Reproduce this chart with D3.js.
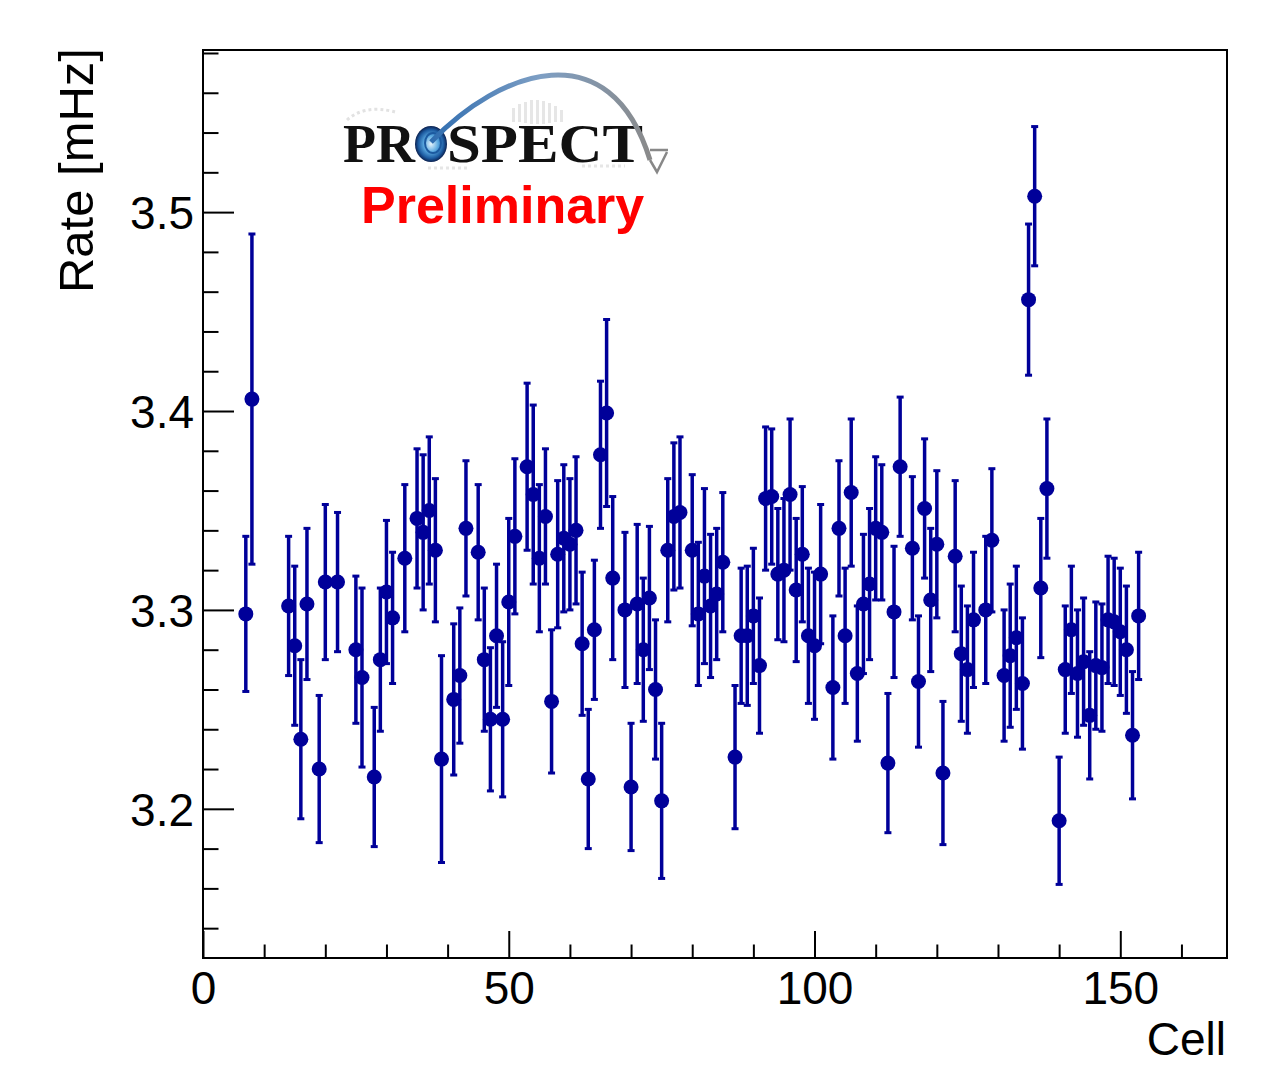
<!DOCTYPE html>
<html>
<head>
<meta charset="utf-8">
<script src="https://cdn.jsdelivr.net/npm/d3@7"></script>
<style>
  body { margin: 0; background: #fff; }
  svg { display: block; }
  text { font-family: "Liberation Sans", Arial, Helvetica, sans-serif; }
</style>
</head>
<body>
<svg id="chart" width="1272" height="1066"></svg>
<script>
// cell number of each filled channel
const cells = [7, 8, 14, 15, 16, 17, 19, 20, 22, 25, 26, 28, 29, 30, 31, 33,
  35, 36, 37, 38, 39, 41, 42, 43, 45, 46, 47, 48, 49, 50, 51,
  53, 54, 55, 56, 57, 58, 59, 60, 61, 62, 63, 64, 65, 66, 67,
  69, 70, 71, 72, 73, 74, 75, 76, 77, 78, 80, 81, 82, 83, 84, 85,
  87, 88, 89, 90, 91, 92, 93, 94, 95, 96, 97, 98, 99, 100, 101,
  103, 104, 105, 106, 107, 108, 109, 110, 111, 112, 113, 114,
  116, 117, 118, 119, 120, 121, 123, 124, 125, 126, 128, 129,
  131, 132, 133, 134, 135, 136, 137, 138,
  140, 141, 142, 143, 144, 145, 146, 147, 148, 149, 150, 151, 152, 153];

// rate [mHz]
const rates = [3.298, 3.406, 3.302, 3.282, 3.235, 3.303, 3.220, 3.314, 3.314, 3.280, 3.266, 3.216, 3.275, 3.309, 3.296, 3.326,
  3.346, 3.339, 3.350, 3.330, 3.225, 3.255, 3.267, 3.341, 3.329, 3.275, 3.245, 3.287, 3.245, 3.304, 3.337,
  3.372, 3.358, 3.326, 3.347, 3.254, 3.328, 3.336, 3.333, 3.340, 3.283, 3.215, 3.290, 3.378, 3.399, 3.316,
  3.300, 3.211, 3.303, 3.280, 3.306, 3.260, 3.204, 3.330, 3.347, 3.349, 3.330, 3.298, 3.317, 3.302, 3.308, 3.324,
  3.226, 3.287, 3.287, 3.297, 3.272, 3.356, 3.357, 3.318, 3.320, 3.358, 3.310, 3.328, 3.287, 3.282, 3.318,
  3.261, 3.341, 3.287, 3.359, 3.268, 3.303, 3.313, 3.341, 3.339, 3.223, 3.299, 3.372,
  3.331, 3.264, 3.351, 3.305, 3.333, 3.218, 3.327, 3.278, 3.270, 3.295, 3.300, 3.335,
  3.267, 3.277, 3.286, 3.263, 3.456, 3.508, 3.311, 3.361,
  3.194, 3.270, 3.290, 3.268, 3.274, 3.247, 3.272, 3.271, 3.295, 3.294, 3.289, 3.280, 3.237, 3.297];

// symmetric errors
const errors = [0.039, 0.083, 0.035, 0.040, 0.040, 0.038, 0.037, 0.039, 0.035, 0.037, 0.045, 0.035, 0.036, 0.036, 0.033, 0.037,
  0.035, 0.039, 0.037, 0.036, 0.052, 0.038, 0.034, 0.034, 0.034, 0.036, 0.036, 0.036, 0.039, 0.042, 0.039,
  0.042, 0.045, 0.037, 0.034, 0.036, 0.037, 0.037, 0.033, 0.037, 0.036, 0.035, 0.035, 0.037, 0.047, 0.041,
  0.039, 0.032, 0.040, 0.036, 0.036, 0.035, 0.039, 0.036, 0.037, 0.038, 0.038, 0.036, 0.044, 0.036, 0.033, 0.035,
  0.036, 0.034, 0.035, 0.034, 0.034, 0.036, 0.034, 0.033, 0.036, 0.038, 0.036, 0.034, 0.034, 0.037, 0.035,
  0.036, 0.034, 0.034, 0.037, 0.034, 0.035, 0.038, 0.036, 0.034, 0.035, 0.033, 0.035,
  0.036, 0.033, 0.035, 0.036, 0.037, 0.036, 0.038, 0.034, 0.032, 0.034, 0.037, 0.036,
  0.033, 0.036, 0.036, 0.033, 0.038, 0.035, 0.035, 0.035,
  0.032, 0.032, 0.032, 0.032, 0.032, 0.032, 0.032, 0.032, 0.032, 0.032, 0.032, 0.032, 0.032, 0.032];

const xMajor = [0, 50, 100, 150];
const yMajor = [3.2, 3.3, 3.4, 3.5];

const svg = d3.select("#chart");
const fLeft = 203, fRight = 1227, fTop = 50, fBottom = 958;
const col = "#000099";

const x = d3.scaleLinear().domain([0, 167.45]).range([fLeft, fRight]);
const y = d3.scaleLinear().domain([3.125, 3.5815]).range([fBottom, fTop]);

let data = cells.map((c, i) => ({ c: c, v: rates[i], e: errors[i] }));

// axes (ticks inside the frame, ROOT style)
let xMinor = d3.range(0, 170, 10).filter(d => xMajor.indexOf(d) < 0);
let yMinor = d3.range(3.14, 3.59, 0.02).filter(d => yMajor.every(m => Math.abs(m - d) > 1e-6));

svg.append("g")
  .attr("transform", `translate(0,${fBottom})`)
  .call(d3.axisBottom(x).tickValues(xMinor).tickSize(-13.5).tickFormat(""))
  .call(g => g.select(".domain").remove());
let gx = svg.append("g")
  .attr("transform", `translate(0,${fBottom})`)
  .call(d3.axisBottom(x).tickValues(xMajor).tickSize(-27).tickPadding(13).tickFormat(d3.format("d")));
gx.select(".domain").remove();

svg.append("g")
  .attr("transform", `translate(${fLeft},0)`)
  .call(d3.axisLeft(y).tickValues(yMinor).tickSize(-15.5).tickFormat(""))
  .call(g => g.select(".domain").remove());
let gy = svg.append("g")
  .attr("transform", `translate(${fLeft},0)`)
  .call(d3.axisLeft(y).tickValues(yMajor).tickSize(-31).tickPadding(9).tickFormat(d3.format(".1f")));
gy.select(".domain").remove();
gy.selectAll("text").attr("dy", "0.36em");

svg.selectAll(".tick line").attr("stroke", "#000").attr("stroke-width", 2);
svg.selectAll(".tick text").attr("fill", "#000")
  .style("font-family", '"Liberation Sans", Arial, sans-serif').style("font-size", "46px");

svg.append("rect")
  .attr("x", fLeft).attr("y", fTop)
  .attr("width", fRight - fLeft).attr("height", fBottom - fTop)
  .attr("fill", "none").attr("stroke", "#000").attr("stroke-width", 2);

// axis titles
svg.append("text")
  .attr("transform", `translate(93,48) rotate(-90)`)
  .attr("text-anchor", "end")
  .style("font-size", "49px")
  .text("Rate [mHz]");
svg.append("text")
  .attr("x", 1226).attr("y", 1055)
  .attr("text-anchor", "end")
  .style("font-size", "46px")
  .text("Cell");

// error bars + markers
let pts = svg.append("g");
pts.selectAll("line.err").data(data).join("line")
  .attr("class", "err")
  .attr("x1", d => x(d.c)).attr("x2", d => x(d.c))
  .attr("y1", d => y(d.v - d.e)).attr("y2", d => y(d.v + d.e))
  .attr("stroke", col).attr("stroke-width", 3.5);
[1, -1].forEach(s => {
  pts.selectAll("line.cap" + (s > 0 ? "u" : "d")).data(data).join("line")
    .attr("class", "cap" + (s > 0 ? "u" : "d"))
    .attr("x1", d => x(d.c) - 3.5).attr("x2", d => x(d.c) + 3.5)
    .attr("y1", d => y(d.v + s * d.e)).attr("y2", d => y(d.v + s * d.e))
    .attr("stroke", col).attr("stroke-width", 3);
});
pts.selectAll("circle").data(data).join("circle")
  .attr("cx", d => x(d.c)).attr("cy", d => y(d.v))
  .attr("r", 7.5).attr("fill", col);

// PROSPECT logo
let defs = svg.append("defs");
let lg = defs.append("linearGradient").attr("id", "arcg").attr("x1", "0").attr("x2", "1").attr("y1", "0").attr("y2", "0");
lg.append("stop").attr("offset", "0").attr("stop-color", "#2f6db0");
lg.append("stop").attr("offset", "0.5").attr("stop-color", "#7e9fc4");
lg.append("stop").attr("offset", "1").attr("stop-color", "#8a8a8a");
let rg = defs.append("radialGradient").attr("id", "og");
rg.append("stop").attr("offset", "0").attr("stop-color", "#e6f4fc");
rg.append("stop").attr("offset", "0.45").attr("stop-color", "#59a8e0");
rg.append("stop").attr("offset", "0.8").attr("stop-color", "#1c5aa0");
rg.append("stop").attr("offset", "1").attr("stop-color", "#0b2150");

let logo = svg.append("g");
// faint background bars
let bars = [[512, 108, 14], [518, 104, 18], [524, 102, 21], [530, 100, 24], [536, 100, 24], [542, 101, 23], [548, 103, 20], [554, 106, 16], [560, 110, 12]];
bars.forEach(b => logo.append("rect").attr("x", b[0]).attr("y", b[1]).attr("width", 3).attr("height", b[2]).attr("fill", "#e6e6e6"));
logo.append("path").attr("d", "M347,120 Q365,104 395,112").attr("fill", "none")
  .attr("stroke", "#e2e2e2").attr("stroke-width", 3).attr("stroke-dasharray", "3,3");
logo.append("path").attr("d", "M428,168 L470,168 M582,166 L625,166").attr("fill", "none")
  .attr("stroke", "#e6e6e6").attr("stroke-width", 3).attr("stroke-dasharray", "3,3");

logo.append("text").attr("x", 343).attr("y", 162)
  .attr("textLength", 72).attr("lengthAdjust", "spacingAndGlyphs")
  .style("font-family", '"Liberation Serif", "Times New Roman", serif').style("font-weight", "bold").style("font-size", "54px")
  .attr("fill", "#111").text("PR");
logo.append("text").attr("x", 447).attr("y", 162)
  .attr("textLength", 196).attr("lengthAdjust", "spacingAndGlyphs")
  .style("font-family", '"Liberation Serif", "Times New Roman", serif').style("font-weight", "bold").style("font-size", "54px")
  .attr("fill", "#111").text("SPECT");
logo.append("ellipse").attr("cx", 431).attr("cy", 144).attr("rx", 16).attr("ry", 18).attr("fill", "url(#og)");
logo.append("ellipse").attr("cx", 433).attr("cy", 143).attr("rx", 8).attr("ry", 10)
  .attr("fill", "none").attr("stroke", "#1c5aa0").attr("stroke-width", 2);
logo.append("path").attr("d", "M431,142 C500,70 610,30 650,160")
  .attr("fill", "none").attr("stroke", "url(#arcg)").attr("stroke-width", 5);
logo.append("path").attr("d", "M650,160 L657,172 L667,152 M650,150 L668,150")
  .attr("fill", "none").attr("stroke", "#888").attr("stroke-width", 2.5);

svg.append("text").attr("x", 361).attr("y", 223)
  .style("font-size", "52px").style("font-weight", "bold")
  .attr("fill", "#ff0000").text("Preliminary");
</script>
</body>
</html>
